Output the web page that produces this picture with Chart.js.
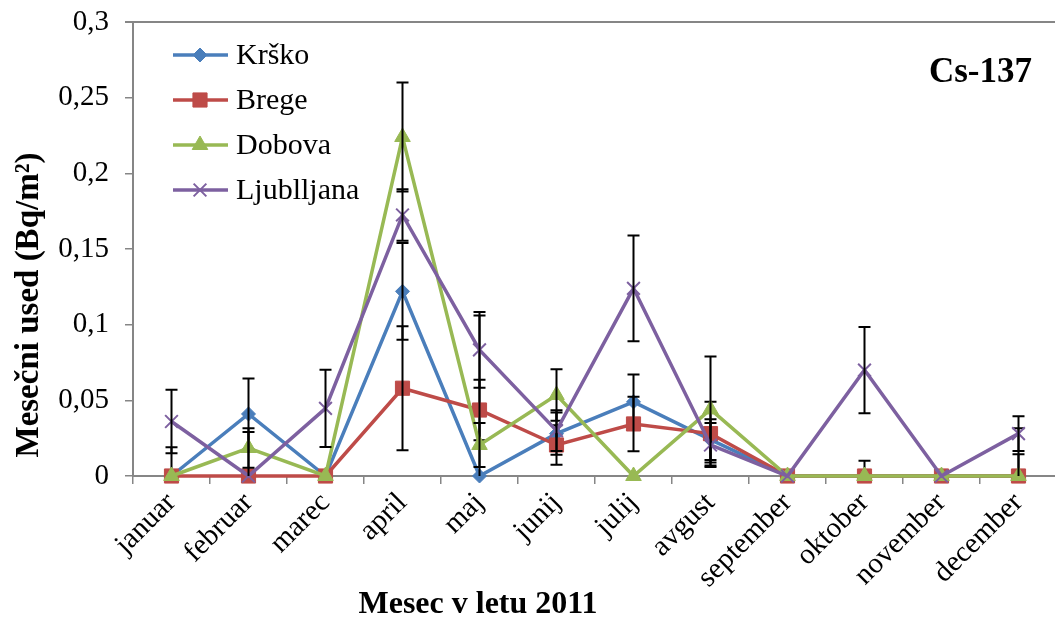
<!DOCTYPE html>
<html>
<head>
<meta charset="utf-8">
<script src="https://cdn.jsdelivr.net/npm/chart.js@4.4.0/dist/chart.umd.min.js"></script>
<style>
    html, body { margin: 0; padding: 0; background: #fff; overflow: hidden; }
</style>
</head>
<body>
<canvas id="myCanvas" width="1068" height="622"></canvas>
<script>
const months = ["januar", "februar", "marec", "april", "maj", "junij", "julij", "avgust", "september", "oktober", "november", "december"];

const krsko = [0, 0.041, 0, 0.122, 0, 0.028, 0.049, 0.024, 0, 0, 0, 0];
const brege = [0, 0, 0, 0.058, 0.0436, 0.0205, 0.0344, 0.028, 0, 0, 0, 0];
const dobova = [0, 0.0185, 0, 0.224, 0.0205, 0.0535, 0, 0.044, 0, 0, 0, 0];
const ljubljana = [0.036, 0, 0.0447, 0.1725, 0.0833, 0.03, 0.124, 0.0205, 0, 0.07, 0, 0.028];

// +/- uncertainty for each month
const krskoErr = [0.019, 0.0235, 0, 0.032, 0.106, 0.014, 0.018, 0.0135, 0, 0.01, 0, 0.0315];
const bregeErr = [0, 0, 0, 0.041, 0.02, 0.013, 0.018, 0.021, 0, 0, 0, 0];
const dobovaErr = [0, 0.013, 0, 0.036, 0.0145, 0.017, 0, 0.035, 0, 0, 0, 0.0143];
const ljubljanaErr = [0.021, 0.029, 0.0255, 0.017, 0.025, 0.0135, 0.035, 0.0145, 0, 0.0285, 0, 0.0115];

const yTicks = [0, 0.05, 0.1, 0.15, 0.2, 0.25, 0.3];

const serif = "'Liberation Serif', 'Times New Roman', serif";
const axisGray = "#868686";

const series = [
    { label: "Krško", data: krsko, err: krskoErr, color: "#4a7ebb", point: "rectRot", radius: 7, order: 3 },
    { label: "Brege", data: brege, err: bregeErr, color: "#be4b48", point: "rect", radius: 10, order: 2 },
    { label: "Dobova", data: dobova, err: dobovaErr, color: "#98b954", point: "triangle", radius: 9, order: 1 },
    { label: "Ljubljana", data: ljubljana, err: ljubljanaErr, color: "#7d60a0", point: "crossRot", radius: 9, order: 0 },
];
const legendLabels = ["Krško", "Brege", "Dobova", "Ljublljana"];

const data = {
    labels: months,
    datasets: series.map((s) => ({
        label: s.label,
        data: s.data,
        borderColor: s.color,
        backgroundColor: s.color,
        borderWidth: 3.5,
        pointStyle: s.point,
        pointRadius: s.radius,
        pointHoverRadius: s.radius,
        pointBorderWidth: s.point === "crossRot" ? 2 : 1,
        pointBorderColor: s.color,
        pointBackgroundColor: s.color,
        tension: 0,
        order: s.order,
        clip: false,
    })),
};

const extras = {
    id: "extras",
    afterDatasetDraw(chart, args) {
        // error bars of one series, drawn right after that series
        const { ctx, chartArea } = chart;
        const x = chart.scales.x;
        const y = chart.scales.y;
        const errs = series[args.index].err;
        const vals = series[args.index].data;
        ctx.save();
        ctx.strokeStyle = "#000";
        ctx.lineWidth = 2;
        errs.forEach((e, i) => {
            if (!e) return;
            const px = x.getPixelForValue(i);
            const top = y.getPixelForValue(vals[i] + e);
            const lowVal = vals[i] - e;
            const bot = Math.min(y.getPixelForValue(lowVal), chartArea.bottom);
            ctx.beginPath();
            ctx.moveTo(px, top);
            ctx.lineTo(px, bot);
            ctx.moveTo(px - 6, top);
            ctx.lineTo(px + 6, top);
            if (lowVal >= 0) {
                ctx.moveTo(px - 6, bot);
                ctx.lineTo(px + 6, bot);
            }
            ctx.stroke();
        });
        ctx.restore();
    },
    afterDraw(chart) {
        const { ctx, chartArea } = chart;
        ctx.save();
        // top border of plot
        ctx.strokeStyle = axisGray;
        ctx.lineWidth = 2;
        ctx.beginPath();
        ctx.moveTo(chartArea.left - 8, chartArea.top);
        ctx.lineTo(chart.width, chartArea.top);
        ctx.stroke();

        // legend
        ctx.font = "30px " + serif;
        ctx.textBaseline = "middle";
        ctx.textAlign = "left";
        series.forEach((s, i) => {
            const ly = 55 + i * 45;
            ctx.strokeStyle = s.color;
            ctx.lineWidth = 3.5;
            ctx.beginPath();
            ctx.moveTo(173, ly);
            ctx.lineTo(228, ly);
            ctx.stroke();
            ctx.fillStyle = s.color;
            ctx.lineWidth = s.point === "crossRot" ? 2 : 1;
            Chart.helpers.drawPoint(ctx, { pointStyle: s.point, radius: s.radius, borderWidth: 1 }, 200, ly);
            ctx.fillStyle = "#000";
            ctx.fillText(legendLabels[i], 236, ly + 1);
        });

        // titles
        ctx.fillStyle = "#000";
        ctx.font = "bold 35px " + serif;
        ctx.textAlign = "right";
        ctx.fillText("Cs-137", 1032, 73);

        ctx.font = "bold 32px " + serif;
        ctx.textAlign = "center";
        ctx.fillText("Mesec v letu 2011", 478, 605);

        ctx.translate(29, 305);
        ctx.rotate(-Math.PI / 2);
        ctx.font = "bold 33px " + serif;
        ctx.fillText("Mesečni used (Bq/m²)", 0, 0);
        ctx.restore();
    },
};

new Chart(document.getElementById("myCanvas"), {
    type: "line",
    data,
    options: {
        responsive: false,
        animation: false,
        events: [],
        layout: { padding: { top: 22, left: 0, right: 0, bottom: 0 } },
        plugins: {
            legend: false,
            tooltip: { enabled: false },
        },
        scales: {
            x: {
                offset: true,
                afterFit: (s) => {
                    s.height = 146;
                    s.paddingLeft = 0;
                    s.paddingRight = 0;
                },
                border: { color: axisGray, width: 2 },
                grid: {
                    offset: true,
                    drawOnChartArea: false,
                    drawTicks: true,
                    tickLength: 8,
                    color: axisGray,
                    lineWidth: 1.5,
                },
                ticks: {
                    color: "#000",
                    minRotation: 45,
                    maxRotation: 45,
                    padding: 2,
                    font: { family: serif, size: 29 },
                },
            },
            y: {
                min: 0,
                max: 0.3,
                afterFit: (s) => {
                    s.width = 133;
                    s.paddingTop = 0;
                    s.paddingBottom = 0;
                },
                afterBuildTicks: (s) => { s.ticks = yTicks.map((v) => ({ value: v })); },
                border: { color: axisGray, width: 2 },
                grid: {
                    drawOnChartArea: false,
                    drawTicks: true,
                    tickLength: 8,
                    color: axisGray,
                    lineWidth: 1.5,
                },
                ticks: {
                    color: "#000",
                    padding: 16,
                    font: { family: serif, size: 29 },
                    callback: (v) => (v === 0 ? "0" : String(+v.toFixed(2)).replace(".", ",")),
                },
            },
        },
    },
    plugins: [extras],
});
</script>
</body>
</html>
